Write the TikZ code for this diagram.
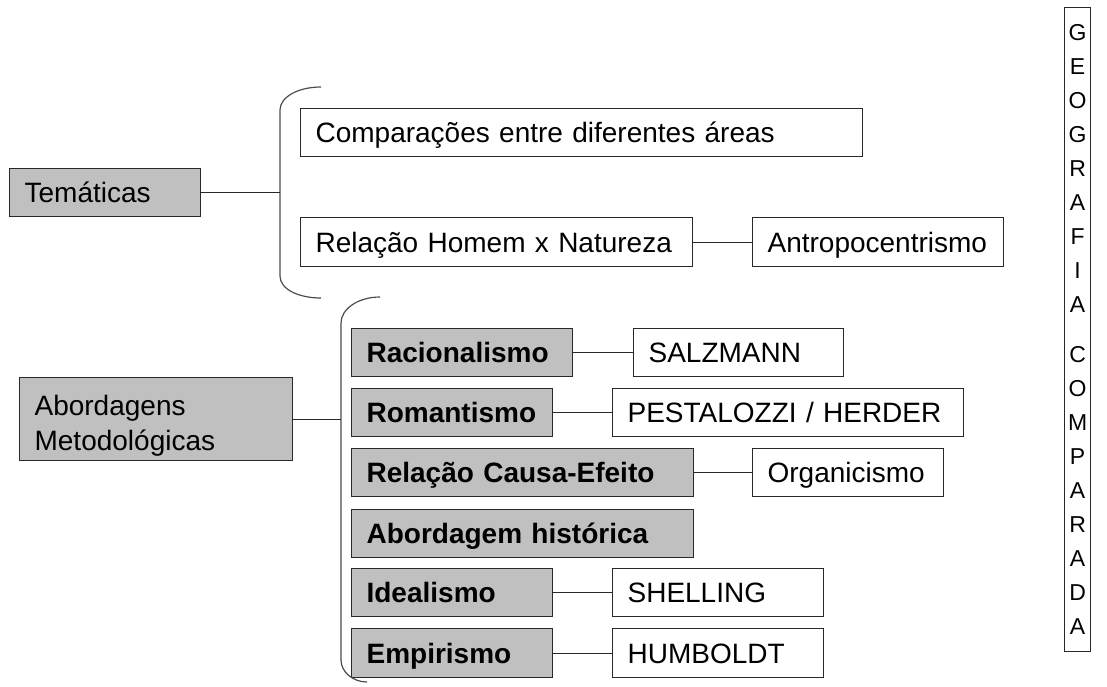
\documentclass[tikz,border=0pt]{standalone}
\usepackage{fontspec}
\setmainfont{Liberation Sans}
\definecolor{boxgray}{RGB}{192,192,192}
\definecolor{edge}{RGB}{40,40,40}
\begin{document}
\begin{tikzpicture}[x=1pt,y=-1pt,
  bxbase/.style={draw=edge, line width=1.2pt, anchor=north west, inner xsep=15pt, inner ysep=0pt,
    align=left, font=\fontsize{28}{35}\selectfont},
  bx/.style={bxbase, text height=20pt, text depth=0pt},
  gbx/.style={bx, fill=boxgray},
  bgbx/.style={gbx, font=\fontsize{28}{35}\selectfont\bfseries},
  ln/.style={draw=edge, line width=1pt},
  brace/.style={draw=black!70, line width=1.2pt}]
\useasboundingbox (0,0) rectangle (1107,686);

% Temáticas branch
\node[gbx, minimum width=191pt, minimum height=48pt, text width=161pt] (tem) at (9,168) {Temáticas};
\node[bx, minimum width=562pt, minimum height=48pt, text width=532pt] (comp) at (300,108) {Comparações entre diferentes áreas};
\node[bx, minimum width=392pt, minimum height=49pt, text width=362pt] (rel) at (300,217) {Relação Homem x Natureza};
\node[bx, minimum width=251pt, minimum height=49pt, text width=221pt] (antro) at (752,217) {Antropocentrismo};

\coordinate (b1) at (280,188);
\draw[brace] (321,87) .. controls (298,87) and (280,97) .. (280,110) -- (280,276)
  .. controls (280,289) and (298,298) .. (321,298);
\draw[ln] (tem.east) -- (tem.east -| b1);
\draw[ln] (rel.east) -- (antro.west);

% Abordagens branch
\node[bxbase, fill=boxgray, minimum width=273pt, minimum height=83pt, text width=243pt,
  text height=24pt, text depth=31pt] (abord) at (19,377) {Abordagens\\Metodológicas};
\node[bgbx, minimum width=221pt, minimum height=48pt, text width=191pt] (rac) at (351,328) {Racionalismo};
\node[bx, minimum width=210pt, minimum height=48pt, text width=180pt] (salz) at (633,328) {SALZMANN};
\node[bgbx, minimum width=201pt, minimum height=48pt, text width=171pt] (rom) at (351,388) {Romantismo};
\node[bx, minimum width=351pt, minimum height=48pt, text width=321pt] (pest) at (612,388) {PESTALOZZI / HERDER};
\node[bgbx, minimum width=342pt, minimum height=48pt, text width=312pt] (rce) at (351,448) {Relação Causa-Efeito};
\node[bx, minimum width=191pt, minimum height=48pt, text width=161pt] (org) at (752,448) {Organicismo};
\node[bgbx, minimum width=342pt, minimum height=48pt, text width=312pt] (abh) at (351,509) {Abordagem histórica};
\node[bgbx, minimum width=201pt, minimum height=48pt, text width=171pt] (ide) at (351,568) {Idealismo};
\node[bx, minimum width=211pt, minimum height=48pt, text width=181pt] (shel) at (612,568) {SHELLING};
\node[bgbx, minimum width=201pt, minimum height=49pt, text width=171pt] (emp) at (351,628) {Empirismo};
\node[bx, minimum width=211pt, minimum height=49pt, text width=181pt] (humb) at (612,628) {HUMBOLDT};

\coordinate (b2) at (341,418);
\draw[brace] (380,297) .. controls (358,297) and (341,309) .. (341,323) -- (341,660)
  .. controls (341,672) and (353,682) .. (367,682);
\draw[ln] (abord.east) -- (abord.east -| b2);
\draw[ln] (rac.east) -- (salz.west);
\draw[ln] (rom.east) -- (pest.west);
\draw[ln] (rce.east) -- (org.west);
\draw[ln] (ide.east) -- (shel.west);
\draw[ln] (emp.east) -- (humb.west);

% Vertical title
\node[draw=edge, line width=1.2pt, anchor=north west, minimum width=26pt, minimum height=644pt,
  inner sep=0pt, align=center, font=\fontsize{23}{34}\selectfont] (geo) at (1064,7)
  {G\\E\\O\\G\\R\\A\\F\\I\\A\\[16pt]C\\O\\M\\P\\A\\R\\A\\D\\A};
\end{tikzpicture}
\end{document}
